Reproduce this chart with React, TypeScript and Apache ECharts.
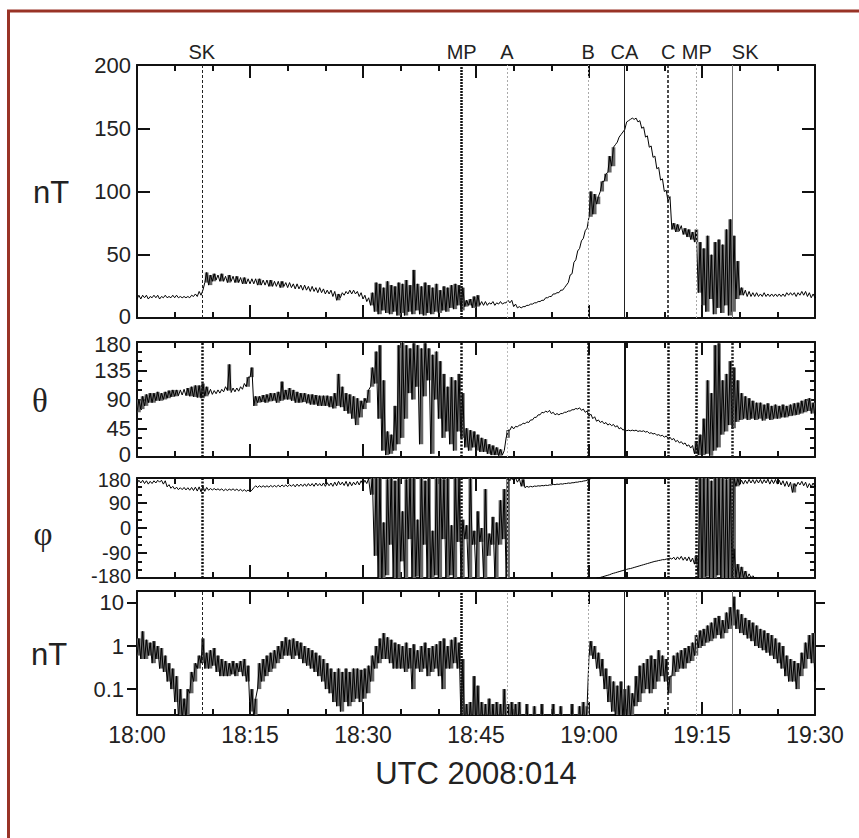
import React, { useEffect, useRef } from "react";
import * as echarts from "echarts";

// ---- data (minutes after 18:00, sampled every STEP minutes; lo/hi = envelope of the trace) ----
const STEP = 0.5;
const xTickLabels = ["18:00", "18:15", "18:30", "18:45", "19:00", "19:15", "19:30"];
const eventNames = ["SK", "MP", "A", "B", "CA", "C", "MP", "SK"];
const eventTimes = [8.6, 43.1, 49.1, 59.9, 64.7, 70.5, 74.3, 79.0];
const logTicks = [0.1, 1, 10];

// |B| (nT)
const bLo = [
  15, 15, 16, 15, 16, 16, 15, 16, 16, 16,
  16, 16, 16, 16, 16, 17, 17, 18, 28, 26,
  29, 30, 29, 29, 28, 29, 28, 28, 27, 27,
  27, 27, 26, 26, 26, 25, 25, 25, 24, 25,
  24, 24, 23, 23, 22, 22, 21, 21, 20, 20,
  19, 19, 17, 14, 16, 18, 19, 19, 19, 17,
  15, 13, 10, 5, 3, 6, 4, 3, 5, 2,
  4, 2, 5, 3, 6, 3, 2, 4, 3, 5,
  4, 6, 5, 8, 7, 10, 6, 9, 10, 8,
  9, 10, 10, 10, 11, 10, 11, 11, 12, 12,
  9, 8, 8, 9, 10, 11, 12, 13, 14, 16,
  17, 19, 20, 22, 26, 34, 44, 53, 61, 69,
  80, 82, 90, 100, 108, 115, 120, 137, 143, 147,
  155, 157, 157, 155, 150, 143, 135, 127, 118, 109,
  100, 92, 70, 68, 69, 66, 64, 62, 60, 20,
  10, 5, 15, 3, 8, 4, 10, 2, 5, 15,
  18, 18, 17, 17, 17, 17, 17, 17, 17, 17,
  17, 17, 17, 18, 18, 17, 18, 18, 17, 16,
  16,
];
const bHi = [
  18, 18, 18, 17, 18, 18, 17, 18, 17, 18,
  18, 17, 17, 17, 18, 19, 21, 22, 36, 34,
  35, 34, 35, 33, 34, 33, 33, 32, 32, 31,
  31, 31, 31, 30, 30, 30, 29, 29, 29, 28,
  28, 27, 27, 26, 26, 25, 25, 24, 24, 23,
  22, 22, 21, 19, 20, 21, 22, 22, 21, 20,
  18, 16, 20, 28, 27, 24, 29, 26, 25, 28,
  27, 30, 26, 38, 27, 25, 28, 26, 24, 27,
  22, 25, 24, 26, 27, 26, 24, 14, 15, 17,
  18, 13, 13, 12, 13, 12, 13, 12, 14, 14,
  11, 9, 9, 10, 11, 12, 13, 14, 16, 17,
  19, 20, 22, 24, 28, 35, 46, 55, 63, 71,
  100, 98, 96, 108, 114, 128, 135, 139, 145, 149,
  156, 158, 158, 156, 151, 144, 136, 128, 119, 110,
  101, 96, 75, 74, 73, 71, 70, 68, 70, 60,
  55, 65, 50, 60, 62, 58, 70, 78, 65, 45,
  24, 22, 21, 20, 20, 19, 20, 19, 19, 19,
  19, 19, 20, 20, 20, 20, 21, 21, 20, 19,
  17,
];

// theta (deg)
const thLo = [
  70, 75, 80, 85, 85, 88, 88, 90, 92, 94,
  95, 96, 97, 96, 95, 94, 93, 92, 95, 98,
  98, 99, 100, 102, 104, 101, 102, 103, 106, 110,
  125, 80, 85, 86, 85, 87, 88, 85, 88, 90,
  90, 88, 85, 85, 86, 84, 82, 82, 80, 80,
  80, 78, 76, 80, 78, 72, 68, 60, 50, 62,
  75, 85, 110, 115, 60, 10, 3, 5, 10, 20,
  30, 60, 100, 90, 110, 20, 95, 120, 5, 90,
  60, 30, 40, 20, 10, 40, 30, 15, 10, 15,
  10, 8, 8, 5, 3, 3, 2, 3, 30, 42,
  44, 47, 50, 52, 54, 58, 62, 66, 69, 70,
  68, 66, 66, 68, 70, 72, 74, 75, 73, 70,
  64, 60, 56, 54, 52, 50, 49, 47, 44, 42,
  41, 41, 41, 40, 40, 39, 37, 36, 34, 33,
  31, 29, 27, 24, 22, 20, 17, 14, 5, 3,
  3, 5, 2, 10, 15, 35, 40, 50, 45, 55,
  58, 60, 58, 60, 58, 60, 57, 60, 58, 60,
  60, 62, 62, 64, 65, 66, 68, 70, 72, 68,
  65,
];
const thHi = [
  90, 95, 98, 100, 100, 102, 100, 102, 104, 105,
  105, 105, 106, 108, 110, 112, 112, 115, 110, 106,
  104, 105, 106, 110, 145, 108, 108, 110, 115, 125,
  140, 95, 95, 97, 98, 100, 100, 102, 118, 105,
  108, 105, 102, 100, 100, 98, 98, 97, 96, 96,
  96, 95, 100, 130, 110, 100, 98, 95, 92, 88,
  92, 105, 140, 165, 175, 120, 40, 35, 80, 175,
  180, 175, 170, 178, 175, 170, 178, 170, 160, 165,
  150, 130, 110, 125, 120, 130, 100, 45, 42, 40,
  35, 30, 28, 20, 18, 15, 12, 10, 42, 48,
  48, 50, 53, 55, 58, 62, 66, 70, 72, 73,
  70, 68, 68, 70, 72, 74, 76, 77, 75, 72,
  67, 63, 58, 56, 54, 52, 51, 49, 46, 44,
  42, 42, 42, 41, 41, 40, 38, 37, 35, 34,
  33, 31, 29, 26, 24, 22, 19, 18, 25, 35,
  60, 120, 100, 175, 178, 120, 130, 150, 140, 120,
  100, 95, 92, 88, 85, 85, 82, 84, 80, 82,
  80, 82, 80, 82, 84, 85, 88, 90, 92, 85,
  80,
];

// phi (deg); null = wrap gap
const phLo = [
  160, 162, 160, 158, 160, 162, 165, 158, 148, 143,
  140, 138, 138, 137, 136, 135, 133, 130, 132, 136,
  137, 137, 136, 134, 135, 136, 135, 134, 133, 132,
  130, 145, 146, 147, 147, 147, 148, 148, 148, 149,
  149, 150, 148, 150, 150, 150, 151, 150, 152, 151,
  150, 152, 150, 152, 155, 153, 150, 152, 155, 155,
  158, 160, 120, -100, -180, -180, -170, -60, -180, -180,
  -120, -180, -40, -180, -175, -180, -60, -180, -180, -170,
  -180, -40, -180, -170, -180, -50, -180, -40, -180, -60,
  -180, -50, -180, -100, -60, -180, -60, -40, -180, 170,
  170, 165, 150, 145, 147, 148, 150, 151, 152, 153,
  155, 156, 157, 158, 160, 161, 163, 165, 167, 170,
  174, null, -180, -178, -174, -170, -165, -161, -157, -153,
  -149, -146, -142, -138, -134, -130, -126, -122, -119, -116,
  -114, -111, -112, -115, -113, -116, -118, -122, -130, -180,
  -180, -175, -180, -180, -170, -180, -180, -180, -175, 150,
  155, 158, 160, 162, 160, 162, 160, 162, 158, 160,
  158, 155, 150, 148, 128, 150, 155, 152, 145, 148,
  148,
];
const phHi = [
  172, 172, 170, 168, 170, 172, 172, 170, 156, 150,
  147, 145, 146, 145, 146, 147, 148, 150, 146, 142,
  142, 141, 141, 140, 140, 141, 140, 139, 138, 137,
  136, 152, 152, 152, 152, 153, 153, 154, 155, 155,
  156, 157, 158, 158, 159, 160, 160, 162, 160, 162,
  163, 162, 165, 168, 165, 168, 166, 165, 168, 170,
  172, 178, 180, 180, 180, 20, 175, 180, 170, 180,
  60, 175, 180, 180, 30, 180, 170, 180, -10, 180,
  180, 175, 180, 10, 180, 180, 30, 10, 180, -10,
  60, 0, 140, -20, 40, 20, 100, 140, 180, 180,
  180, 178, 175, 150, 150, 151, 152, 153, 154, 155,
  157, 158, 159, 160, 162, 163, 165, 167, 169, 172,
  178, null, -179, -176, -172, -168, -163, -159, -155, -151,
  -147, -144, -140, -136, -132, -128, -124, -120, -117, -114,
  -112, -108, -105, -104, -102, -105, -104, -108, -100, 180,
  180, 180, 170, 180, 180, 180, 175, 180, 180, 178,
  172, 172, 175, 174, 174, 175, 174, 176, 174, 175,
  172, 170, 168, 165, 160, 165, 168, 165, 160, 162,
  158,
];
// second branch of phi near -180 just after the outbound shock
const phWrapTimes = [79, 79.5, 80, 80.5, 81, 81.5, 82];
const phWrapLo = [-180, -178, -180, -178, -180, -179, -180];
const phWrapHi = [-75, -130, -140, -155, -165, -172, -178];

// fluctuation amplitude (nT, log scale); values below 0.025 fall off the axis
const lgLo = [
  0.6, 0.5, 0.5, 0.6, 0.4, 0.5, 0.3, 0.25, 0.15, 0.1,
  0.05, 0.02, 0.02, 0.02, 0.08, 0.15, 0.3, 0.4, 0.3, 0.3,
  0.35, 0.25, 0.2, 0.2, 0.2, 0.22, 0.2, 0.25, 0.2, 0.15,
  0.03, 0.02, 0.1, 0.15, 0.2, 0.25, 0.3, 0.4, 0.5, 0.6,
  0.6, 0.5, 0.6, 0.5, 0.4, 0.35, 0.3, 0.25, 0.2, 0.15,
  0.1, 0.08, 0.05, 0.04, 0.03, 0.05, 0.04, 0.05, 0.06, 0.05,
  0.06, 0.08, 0.15, 0.3, 0.4, 0.5, 0.5, 0.4, 0.3, 0.3,
  0.3, 0.25, 0.3, 0.1, 0.3, 0.25, 0.3, 0.2, 0.25, 0.3,
  0.2, 0.1, 0.3, 0.3, 0.4, 0.3, 0.02, 0.01, 0.01, 0.01,
  0.01, 0.01, 0.01, 0.01, 0.01, 0.01, 0.01, 0.01, 0.01, 0.01,
  0.01, 0.01, 0.01, 0.01, 0.01, 0.01, 0.01, 0.01, 0.01, 0.01,
  0.01, 0.01, 0.01, 0.01, 0.01, 0.01, 0.01, 0.01, 0.01, 0.01,
  0.6, 0.5, 0.3, 0.2, 0.1, 0.05, 0.03, 0.02, 0.02, 0.02,
  0.02, 0.02, 0.04, 0.05, 0.08, 0.1, 0.08, 0.1, 0.15, 0.2,
  0.15, 0.08, 0.2, 0.25, 0.3, 0.3, 0.4, 0.45, 0.6, 0.9,
  1.0, 1.2, 1.3, 1.5, 1.8, 1.5, 2.0, 2.5, 3.0, 2.5,
  2.0, 1.8, 1.5, 1.3, 1.0, 0.9, 0.8, 0.7, 0.6, 0.5,
  0.4, 0.3, 0.2, 0.15, 0.15, 0.1, 0.2, 0.3, 0.5, 0.4,
  0.15,
];
const lgHi = [
  1.5, 2.2, 1.4, 1.2, 1.3, 1.0, 0.9, 0.6, 0.4, 0.3,
  0.2, 0.1, 0.06, 0.1, 0.25, 0.4, 0.6, 1.5, 0.7, 0.8,
  0.9, 0.6, 0.5, 0.45, 0.4, 0.45, 0.4, 0.45, 0.5, 0.35,
  0.1, 0.06, 0.4, 0.5, 0.6, 0.7, 0.8, 1.0, 1.3, 1.6,
  1.4, 1.5, 1.3, 1.2, 1.0, 0.9, 0.8, 0.7, 0.6, 0.5,
  0.4, 0.3, 0.25, 0.3, 0.25, 0.3, 0.25, 0.3, 0.3, 0.28,
  0.3, 0.35, 0.6, 1.0, 1.5, 2.0, 1.6, 1.4, 1.2, 1.1,
  1.0, 1.2, 0.9, 1.1, 0.8, 1.0, 1.2, 0.9, 1.0, 1.1,
  1.3, 1.5, 1.0, 1.4, 1.6, 1.2, 0.5, 0.045, 0.05, 0.2,
  0.12, 0.05, 0.045, 0.06, 0.045, 0.05, 0.045, 0.1, 0.045, 0.05,
  0.045, 0.05, 0.01, 0.045, 0.01, 0.04, 0.01, 0.045, 0.01, 0.01,
  0.045, 0.01, 0.04, 0.01, 0.01, 0.045, 0.01, 0.04, 0.05, 0.04,
  1.3, 1.0, 0.7, 0.5, 0.3, 0.2, 0.15, 0.12, 0.15, 0.1,
  0.12, 0.08, 0.2, 0.35, 0.4, 0.5, 0.6, 0.5, 0.8, 0.6,
  0.5, 0.2, 0.6, 0.7, 0.8, 0.9, 1.0, 1.2, 1.8, 2.3,
  2.5, 3.0, 3.5, 4.5, 5.0, 4.0, 6.0, 8.0, 14, 7.0,
  5.5, 4.5, 4.0, 3.5, 3.0, 2.5, 2.3, 2.0, 1.8, 1.5,
  1.2, 1.0, 0.6, 0.5, 0.45, 0.4, 0.7, 1.2, 1.8, 2.0,
  0.5,
];

// ---- helpers ----
type Num = number | null;
function zigzag(lo: Num[], hi: Num[], times?: number[]) {
  const out: Num[][] = [];
  for (let i = 0; i < lo.length; i++) {
    const t = times ? times[i] : i * STEP;
    out.push([t, lo[i]]);
    out.push([t + STEP / 2, hi[i]]);
  }
  return out;
}
function bandData(lo: Num[], hi: Num[], times?: number[]) {
  const out: number[][] = [];
  for (let i = 0; i < lo.length; i++) {
    const a = lo[i];
    const b = hi[i];
    if (a == null || b == null) continue;
    out.push([times ? times[i] : i * STEP, a, b]);
  }
  return out;
}

const FONT = "Liberation Sans, Arial, sans-serif";
const SERIF = "Liberation Serif, DejaVu Serif, serif";
const AX = "#111";

const thinStyles = [
  { color: "#222", width: 1, type: [3, 2] },
  { color: "#111", width: 2.5, type: [2, 1] },
  { color: "#aaa", width: 1, type: [2, 2] },
  { color: "#aaa", width: 1, type: [2, 2] },
  { color: "#222", width: 1, type: "solid" },
  { color: "#111", width: 1.5, type: [3, 2] },
  { color: "#aaa", width: 1, type: [2, 2] },
  { color: "#777", width: 1, type: "solid" },
];
const thickStyles = [
  { color: "#111", width: 2.5, type: [2, 1.5] },
  { color: "#111", width: 2.5, type: [2, 1.5] },
  { color: "#bbb", width: 1, type: [2, 2] },
  { color: "#111", width: 2.5, type: [2, 1.5] },
  { color: "#111", width: 2, type: "solid" },
  { color: "#111", width: 2.5, type: [2, 1.5] },
  { color: "#111", width: 2.5, type: [2, 1.5] },
  { color: "#222", width: 2.5, type: [2, 1.5] },
];

function markLines(styles: any[], withLabels: boolean) {
  return {
    silent: true,
    symbol: ["none", "none"],
    data: eventTimes.map((t, k) => ({
      xAxis: t,
      lineStyle: styles[k],
      label: withLabels
        ? {
            show: true,
            position: "end",
            formatter: eventNames[k],
            fontSize: 20,
            fontFamily: FONT,
            color: "#222",
            distance: 3,
            offset: k === 7 ? [13, 0] : [0, 0],
          }
        : { show: false },
    })),
  };
}

const grids = [
  { left: 137, top: 65, width: 678, height: 253 },
  { left: 137, top: 342, width: 678, height: 115 },
  { left: 137, top: 478, width: 678, height: 100 },
  { left: 137, top: 591, width: 678, height: 124 },
];

function xAxes(g: number) {
  const base = {
    type: "value",
    gridIndex: g,
    min: 0,
    max: 90,
    interval: 15,
    axisLine: { show: true, onZero: false, lineStyle: { color: AX, width: 2 } },
    axisTick: { show: true, inside: true, length: 13, lineStyle: { color: AX, width: 2 } },
    minorTick: { show: true, splitNumber: 3, length: 6, lineStyle: { color: AX, width: 2 } },
    splitLine: { show: false },
    minorSplitLine: { show: false },
  };
  return [
    {
      ...base,
      position: "bottom",
      axisLabel: {
        show: g === 3,
        formatter: (v: number) => xTickLabels[Math.round(v / 15)],
        fontSize: 23,
        fontFamily: FONT,
        color: "#222",
        margin: 8,
      },
    },
    { ...base, position: "top", axisLabel: { show: false } },
  ];
}

// rich styles that nudge the end labels of stacked panels apart
function richFor(size: number) {
  const s = { fontSize: size, fontFamily: FONT, color: "#222" };
  return {
    n: s,
    up2: { ...s, padding: [0, 0, 4, 0] },
    up3: { ...s, padding: [0, 0, 6, 0] },
    dn1: { ...s, padding: [3, 0, 0, 0] },
    dn2: { ...s, padding: [4, 0, 0, 0] },
  };
}

function yAxes(g: number) {
  const lineBase = {
    gridIndex: g,
    axisLine: { show: true, onZero: false, lineStyle: { color: AX, width: 2 } },
    splitLine: { show: false },
    minorSplitLine: { show: false },
  };
  let spec: any;
  let fmt: (v: number) => string;
  let size = 22;
  if (g === 0) {
    spec = {
      type: "value", min: 0, max: 200, interval: 50,
      axisTick: { show: true, inside: true, length: 13, lineStyle: { color: AX, width: 2 } },
      minorTick: { show: false },
    };
    fmt = (v) => (v === 0 ? `{up2|${v}}` : `{n|${v}}`);
  } else if (g === 1) {
    spec = {
      type: "value", min: 0, max: 180, interval: 45,
      axisTick: { show: true, inside: true, length: 10, lineStyle: { color: AX, width: 2 } },
      minorTick: { show: true, splitNumber: 3, length: 5, lineStyle: { color: AX, width: 2 } },
    };
    fmt = (v) => (v === 0 ? `{up3|${v}}` : v === 180 ? `{dn2|${v}}` : `{n|${v}}`);
  } else if (g === 2) {
    size = 20;
    spec = {
      type: "value", min: -180, max: 180, interval: 90,
      axisTick: { show: true, inside: true, length: 10, lineStyle: { color: AX, width: 2 } },
      minorTick: { show: true, splitNumber: 3, length: 5, lineStyle: { color: AX, width: 2 } },
    };
    fmt = (v) => (v === -180 ? `{up2|${v}}` : v === 180 ? `{dn1|${v}}` : `{n|${v}}`);
  } else {
    spec = {
      type: "log", logBase: 10, min: 0.025, max: 19,
      axisTick: { show: true, inside: false, length: 10, customValues: logTicks, lineStyle: { color: AX, width: 2 } },
      minorTick: { show: false },
    };
    fmt = (v) => `{n|${v}}`;
  }
  const left = {
    ...lineBase, ...spec, position: "left",
    axisLabel: {
      fontSize: size, fontFamily: FONT, color: "#222",
      margin: g === 3 ? 13 : 6,
      formatter: fmt,
      rich: richFor(size),
      ...(g === 3 ? { customValues: logTicks } : { showMinLabel: true, showMaxLabel: true }),
    },
  };
  const right = { ...lineBase, ...spec, position: "right", axisLabel: { show: false } };
  return [left, right];
}

function traceSeries(g: number, data: any[], ml?: any) {
  return {
    type: "line",
    xAxisIndex: 2 * g,
    yAxisIndex: 2 * g,
    data,
    showSymbol: false,
    symbol: "none",
    connectNulls: false,
    clip: true,
    silent: true,
    z: 3,
    lineStyle: { color: "#000", width: 1 },
    ...(ml ? { markLine: ml } : {}),
  };
}

// envelope drawn as one grey column per sample (only where the trace is noisy),
// placed through the axes' own coordinate mapping
function bandSeries(g: number, lo: Num[], hi: Num[], times?: number[]) {
  return {
    type: "custom",
    xAxisIndex: 2 * g,
    yAxisIndex: 2 * g,
    silent: true,
    z: 2,
    encode: { x: 0, y: [1, 2] },
    data: bandData(lo, hi, times),
    renderItem: (params: any, api: any) => {
      const t = api.value(0);
      const lo = api.value(1);
      const hi = api.value(2);
      if (isNaN(lo) || isNaN(hi)) return null;
      const a = api.coord([t, lo]);
      const b = api.coord([t + STEP, hi]);
      const cs = params.coordSys;
      const clampY = (y: number) => Math.min(Math.max(y, cs.y), cs.y + cs.height);
      const clampX = (x: number) => Math.min(Math.max(x, cs.x), cs.x + cs.width);
      const x1 = clampX(a[0]);
      const x2 = clampX(b[0]);
      const yTop = clampY(Math.min(a[1], b[1]));
      const yBot = clampY(Math.max(a[1], b[1]));
      if (x2 <= x1 || yBot - yTop < 6) return null;
      return {
        type: "rect",
        shape: { x: x1, y: yTop, width: x2 - x1, height: yBot - yTop },
        style: { fill: "#666" },
      };
    },
  };
}

export default function App() {
  const ref = useRef<HTMLDivElement>(null);
  useEffect(() => {
    if (!ref.current) return;
    const chart = echarts.init(ref.current, null, { renderer: "svg" });
    const xs: any[] = [];
    const ys: any[] = [];
    for (let g = 0; g < 4; g++) {
      xs.push(...xAxes(g));
      ys.push(...yAxes(g));
    }
    const textStyle = { fontFamily: FONT, fill: "#222" };
    chart.setOption({
      animation: false,
      backgroundColor: "#fff",
      textStyle: { fontFamily: FONT },
      grid: grids,
      xAxis: xs,
      yAxis: ys,
      series: [
        bandSeries(0, bLo, bHi),
        bandSeries(1, thLo, thHi),
        bandSeries(2, phLo, phHi),
        bandSeries(2, phWrapLo, phWrapHi, phWrapTimes),
        bandSeries(3, lgLo, lgHi),
        traceSeries(0, zigzag(bLo, bHi), markLines(thinStyles, true)),
        traceSeries(1, zigzag(thLo, thHi), markLines(thickStyles, false)),
        traceSeries(2, zigzag(phLo, phHi), markLines(thickStyles, false)),
        traceSeries(2, zigzag(phWrapLo, phWrapHi, phWrapTimes)),
        traceSeries(3, zigzag(lgLo, lgHi), markLines(thinStyles, false)),
      ],
      graphic: [
        {
          type: "rect",
          shape: { x: 8.5, y: 11, width: 900, height: 900 },
          style: { fill: "none", stroke: "#993326", lineWidth: 3 },
          silent: true,
        },
        { type: "text", x: 51, y: 192, style: { ...textStyle, text: "nT", fontSize: 31, align: "center", verticalAlign: "middle" } },
        { type: "text", x: 40, y: 401, style: { ...textStyle, text: "θ", fontSize: 33, fontFamily: SERIF, align: "center", verticalAlign: "middle" } },
        { type: "text", x: 43, y: 534, style: { ...textStyle, text: "φ", fontSize: 33, fontFamily: SERIF, align: "center", verticalAlign: "middle" } },
        { type: "text", x: 49, y: 654, style: { ...textStyle, text: "nT", fontSize: 31, align: "center", verticalAlign: "middle" } },
        { type: "text", x: 476, y: 773, style: { ...textStyle, text: "UTC 2008:014", fontSize: 31, align: "center", verticalAlign: "middle" } },
      ],
    });
    return () => chart.dispose();
  }, []);
  return (
    <div
      ref={ref}
      style={{ position: "fixed", left: 0, top: 0, width: 859, height: 838, background: "#fff" }}
    />
  );
}
